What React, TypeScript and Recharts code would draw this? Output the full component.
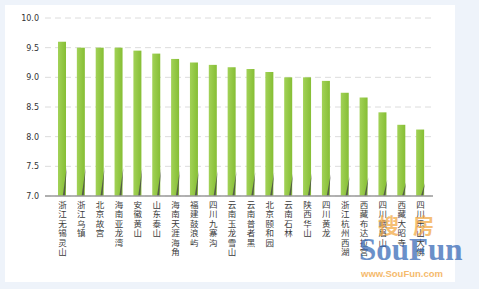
import React from 'react';
import { BarChart, Bar, XAxis, YAxis, CartesianGrid } from 'recharts';

const categories = [
  '浙江无锡灵山', '浙江乌镇', '北京故宫', '海南亚龙湾', '安徽黄山', '山东泰山', '海南天涯海角',
  '福建鼓浪屿', '四川九寨沟', '云南玉龙雪山', '云南普者黑', '北京颐和园', '云南石林', '陕西华山',
  '四川黄龙', '浙江杭州西湖', '西藏布达拉宫', '四川峨眉山', '西藏大昭寺', '四川乐山大佛',
];
const scores = [9.6, 9.5, 9.5, 9.5, 9.45, 9.4, 9.31, 9.25, 9.21, 9.17, 9.14, 9.09, 9.0, 9.0, 8.94, 8.74, 8.66, 8.41, 8.2, 8.12];
const yTicks = [7.0, 7.5, 8.0, 8.5, 9.0, 9.5, 10.0];

const data = categories.map((name, i) => ({ name, score: scores[i] }));

const BarShape = (props: any) => {
  const { x, y, width, height } = props;
  if (height == null || height <= 0) return null;
  const bottom = y + height;
  const wh = height * 0.19;
  return (
    <g>
      <rect x={x} y={y} width={width} height={height} fill="url(#barGrad)" />
      <polygon
        points={`${x + width + 0.8},${bottom - wh} ${x + width - 1.2},${bottom} ${x + width - 3.2},${bottom}`}
        fill="#4a4a4a"
        opacity={0.85}
      />
    </g>
  );
};

const XTick = (props: any) => {
  const { x, y, payload } = props;
  const chars = String(payload.value).split('');
  return (
    <g>
      {chars.map((c, i) => (
        <text
          key={i}
          x={x}
          y={y + 8 + i * 9.4}
          textAnchor="middle"
          fontSize={8.5}
          fontFamily="'Noto Sans CJK SC', sans-serif"
          fill="#3a3a3a"
        >
          {c}
        </text>
      ))}
    </g>
  );
};

export default function App() {
  return (
    <div style={{ position: 'fixed', left: 0, top: 0, width: 479, height: 289, background: '#eef3fa', overflow: 'hidden' }}>
      <div style={{ position: 'absolute', left: 5, top: 5, width: 450, height: 277, background: '#ffffff' }} />
      <div style={{ position: 'absolute', left: 0, top: 0 }}>
        <BarChart width={479} height={289} data={data} margin={{ top: 18, right: 46, bottom: 0, left: 0 }} barSize={8}>
          <defs>
            <linearGradient id="barGrad" x1="0" y1="0" x2="1" y2="0">
              <stop offset="0%" stopColor="#a2d257" />
              <stop offset="100%" stopColor="#86be35" />
            </linearGradient>
          </defs>
          <CartesianGrid vertical={false} stroke="#dcdcdc" strokeDasharray="6 4" />
          <XAxis
            dataKey="name"
            interval={0}
            height={93}
            tickLine={false}
            axisLine={{ stroke: '#9a9a9a', strokeWidth: 1.5 }}
            padding={{ left: 8, right: 3 }}
            tick={<XTick />}
            tickSize={2}
            tickMargin={2}
          />
          <YAxis
            width={45}
            domain={[7, 10]}
            ticks={yTicks}
            axisLine={false}
            tickLine={false}
            tickSize={4}
            tickMargin={2}
            tickFormatter={(v: number) => v.toFixed(1)}
            tick={{ fontSize: 8, fill: '#333', fontFamily: 'DejaVu Sans' }}
          />
          <Bar dataKey="score" shape={<BarShape />} isAnimationActive={false} />
        </BarChart>
      </div>
      <div style={{ position: 'absolute', left: 378, top: 211, fontSize: 21, color: '#f2a43a', opacity: 0.7, fontFamily: "'Noto Sans CJK SC', sans-serif", fontWeight: 'bold', letterSpacing: 14, lineHeight: '26px' }}>
        搜房
      </div>
      <div style={{ position: 'absolute', left: 359, top: 232, fontSize: 31, color: '#3a6cb8', opacity: 0.75, fontFamily: "'Liberation Serif', serif", fontWeight: 'bold', lineHeight: '36px' }}>
        SouFun
      </div>
      <div style={{ position: 'absolute', left: 361, top: 268, fontSize: 9.5, color: '#f2a43a', opacity: 0.75, fontFamily: "'Liberation Sans', sans-serif", fontWeight: 'bold', lineHeight: '11px' }}>
        www.SouFun.com
      </div>
    </div>
  );
}
